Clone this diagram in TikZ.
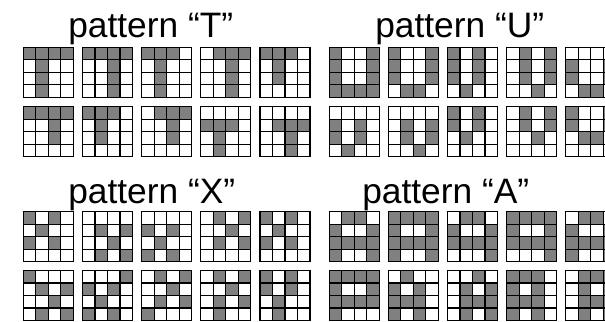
\documentclass[tikz,border=0pt]{standalone}
\usepackage{fontspec}
\setmainfont{Liberation Sans}
\definecolor{cellgray}{gray}{0.5}
\tikzset{
  x=0.75pt, y=-0.75pt,
  gridline/.style={draw=black, line width=0.8pt},
  titletext/.style={font=\fontsize{26.5}{30}\selectfont, inner sep=0pt, anchor=base west}
}
\makeatletter
\newcommand\patcell[2]{%
  \ifnum#2=1 \def\pat@fc{cellgray}\else\def\pat@fc{white}\fi
  \draw[gridline, fill=\pat@fc] ({\pat@gx+#1*12.5},{\pat@gy+\pat@r*12.5}) rectangle ++(12.5,12.5);}
\def\patrow#1#2#3#4\relax{\patcell{0}{#1}\patcell{1}{#2}\patcell{2}{#3}\patcell{3}{#4}}
\newcommand\patgrid[3]{%
  \def\pat@gx{#1}\def\pat@gy{#2}%
  \foreach \pat@rowdata [count=\pat@r from 0] in {#3} {\expandafter\patrow\pat@rowdata\relax}}
\makeatother
\begin{document}
\begin{tikzpicture}
\useasboundingbox (0,0) rectangle (605,321);
\clip (0,0) rectangle (605,321);
% titles
\node[titletext] (tT) at (68,38) {pattern “T”};
\node[titletext] (tU) at (375,38) {pattern “U”};
\node[titletext] (tX) at (68,203) {pattern “X”};
\node[titletext] (tA) at (362,203) {pattern “A”};
% pattern T
\patgrid{23.3}{47.3}{1111,0100,0100,0100}
\patgrid{82.5}{47.3}{1111,0010,0010,0010}
\patgrid{141.7}{47.3}{1110,0100,0100,0100}
\patgrid{200.8}{47.3}{0111,0010,0010,0010}
\patgrid{260}{47.3}{1110,0100,0100,0000}
\patgrid{23.3}{106.7}{1111,0010,0010,0000}
\patgrid{82.5}{106.7}{1110,0100,0100,0000}
\patgrid{141.7}{106.7}{0111,0010,0010,0000}
\patgrid{200.8}{106.7}{0000,1110,0100,0100}
\patgrid{260}{106.7}{0000,0111,0010,0010}
% pattern U
\patgrid{329.3}{47.3}{1001,1001,1001,1111}
\patgrid{388.4}{47.3}{1001,1001,1001,0110}
\patgrid{447.5}{47.3}{1010,1010,1010,0100}
\patgrid{506.6}{47.3}{0101,0101,0101,0010}
\patgrid{565.7}{47.3}{0000,1001,1001,0110}
\patgrid{329.3}{106.7}{0000,1010,1010,0100}
\patgrid{388.4}{106.7}{0000,0101,0101,0010}
\patgrid{447.5}{106.7}{1010,1010,0100,0000}
\patgrid{506.6}{106.7}{0101,0101,0010,0000}
\patgrid{565.7}{106.7}{1001,1001,0110,0000}
% pattern X
\patgrid{23.3}{211.7}{1010,0100,1010,0000}
\patgrid{82.5}{211.7}{0000,0101,0010,0101}
\patgrid{141.7}{211.7}{0000,1010,0100,1010}
\patgrid{200.8}{211.7}{0101,0010,0101,0000}
\patgrid{260}{211.7}{1010,0100,1010,0000}
\patgrid{23.3}{270.5}{1000,0101,0010,0101}
\patgrid{82.5}{270.5}{0001,1010,0100,1010}
\patgrid{141.7}{270.5}{0101,0010,0101,1000}
\patgrid{200.8}{270.5}{0101,0010,0101,0100}
\patgrid{260}{270.5}{1010,1010,0100,0100}
% pattern A
\patgrid{329.3}{211.7}{0110,1001,1111,1001}
\patgrid{388.4}{211.7}{1111,1001,1111,1001}
\patgrid{447.5}{211.7}{0110,1001,1111,0001}
\patgrid{506.6}{211.7}{1111,1001,1111,0001}
\patgrid{565.7}{211.7}{0110,1001,1111,1001}
\patgrid{329.3}{270.5}{1111,1001,1111,1000}
\patgrid{388.4}{270.5}{0100,1010,1110,1010}
\patgrid{447.5}{270.5}{0010,0101,0111,0101}
\patgrid{506.6}{270.5}{1110,1010,1110,1010}
\patgrid{565.7}{270.5}{0111,0101,0111,0101}
\end{tikzpicture}
\end{document}
